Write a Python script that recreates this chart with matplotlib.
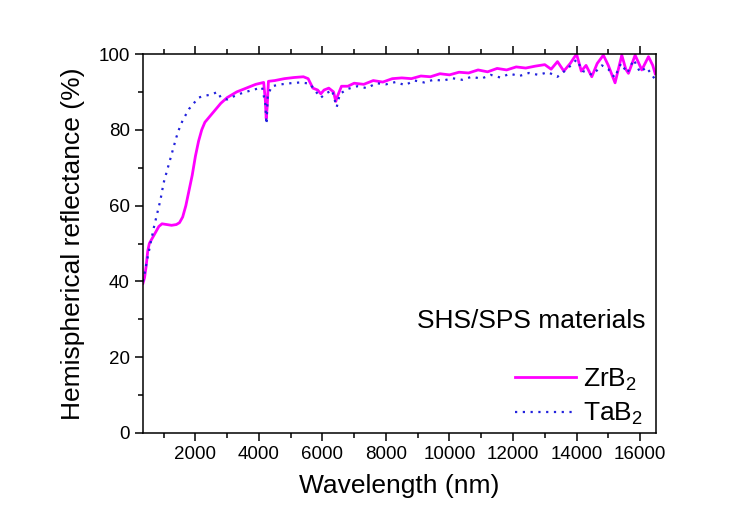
import matplotlib
matplotlib.use("Agg")
import matplotlib.pyplot as plt
from matplotlib.ticker import MultipleLocator
from matplotlib.lines import Line2D

plt.rcParams["font.family"] = ["Liberation Sans", "DejaVu Sans"]
plt.rcParams["mathtext.fontset"] = "custom"
plt.rcParams["mathtext.rm"] = "Liberation Sans"

# ── Data ─────────────────────────────────────────────────────────────────────
zrb2_wl = [350, 400, 450, 500, 550, 650, 750, 850, 950, 1100, 1250, 1400, 1500,
           1600, 1700, 1800, 1900, 2000, 2100, 2200, 2300, 2450, 2600, 2800,
           3000, 3300, 3600, 3900, 4150, 4200, 4230, 4260, 4300, 4500, 4800,
           5100, 5400, 5550, 5700, 5850, 5950, 6050, 6200, 6350, 6420, 6480,
           6600, 6800, 7000, 7300, 7600, 7900, 8200, 8500, 8800, 9100, 9400,
           9700, 10000, 10300, 10600, 10900, 11200, 11500, 11800, 12100, 12400,
           12700, 13000, 13200, 13400, 13600, 13800, 14000, 14150, 14300, 14480,
           14650, 14845, 15000, 15213, 15425, 15550, 15634, 15845, 16055, 16265,
           16400, 16476]
zrb2_r = [39.5, 41, 44, 48, 50, 51.5, 53, 54.5, 55.2, 55, 54.8, 55, 55.5,
          57, 60, 64, 68, 73, 77, 80, 82, 83.5, 85, 87,
          88.5, 90, 91, 92, 92.5, 88, 83, 86, 92.8, 93, 93.5,
          93.8, 94, 93.5, 91, 90.5, 89.5, 90.5, 91, 90, 87.5, 89,
          91.5, 91.5, 92.3, 92, 93, 92.6, 93.5, 93.7, 93.5, 94.2, 94,
          94.8, 94.5, 95.2, 95, 95.8, 95.3, 96.2, 95.8, 96.6, 96.3,
          96.8, 97.2, 96, 98, 95.5, 97.5, 100, 95.5, 97, 94,
          97.5, 99.7, 97, 92.4, 99.7, 96, 94.9, 99.7, 95.8, 99.3,
          97, 94.8]

tab2_wl = [350, 420, 500, 600, 700, 800, 900, 1000, 1100, 1200, 1300, 1400,
           1500, 1600, 1700, 1800, 1900, 2000, 2100, 2300, 2500, 2700, 2800,
           3000, 3200, 3500, 3800, 4100, 4200, 4240, 4280, 4400, 4700, 5000,
           5300, 5600, 5800, 5950, 6100, 6300, 6450, 6550, 6800, 7100, 7400,
           7700, 8000, 8300, 8600, 8900, 9200, 9500, 9800, 10100, 10400, 10700,
           11000, 11300, 11600, 11900, 12200, 12500, 12800, 13100, 13400, 13700,
           14000, 14200, 14500, 14800, 15000, 15200, 15400, 15600, 15800, 16000,
           16200, 16500]
tab2_r = [40, 43, 46.5, 50.5, 54.5, 58, 61.5, 66, 69, 72, 75, 78,
          80.5, 82.5, 84, 85.5, 86.5, 87.5, 88.5, 89, 89.3, 90, 88.5,
          88, 88.8, 89.8, 90.5, 91.2, 87, 81.5, 89, 91.5, 92, 92.3,
          92.5, 92.2, 90, 88.5, 89.5, 90.5, 86, 89.5, 90.8, 91.5, 91,
          92.3, 92, 92.6, 91.8, 93, 92.5, 93.2, 93, 93.6, 93.2, 94,
          93.5, 94.5, 93.8, 94.8, 94.2, 95, 94.5, 95.2, 94, 96,
          98.5, 95.5, 94.5, 97, 96, 93.8, 97.5, 95, 98.5, 95.2,
          96.5, 93]

MAGENTA = "#ff00ff"
BLUE = "#2222dd"
DOTS = (0, (1, 2.5))

# ── Plot ─────────────────────────────────────────────────────────────────────
fig = plt.figure(figsize=(7.47, 5.16), dpi=100)
ax = fig.add_axes([0.1914, 0.1609, 0.6867, 0.7344])

ax.plot(zrb2_wl, zrb2_r, color=MAGENTA, lw=2.0, solid_joinstyle="round")
ax.plot(tab2_wl, tab2_r, color=BLUE, lw=1.6, ls=DOTS)

ax.set_xlim(350, 16500)
ax.set_ylim(0, 100)
ax.xaxis.set_major_locator(MultipleLocator(2000))
ax.xaxis.set_minor_locator(MultipleLocator(1000))
ax.yaxis.set_major_locator(MultipleLocator(20))
ax.yaxis.set_minor_locator(MultipleLocator(10))

ax.tick_params(which="both", direction="out", top=True, right=False,
               width=1.1, labelsize=13.5)
ax.tick_params(which="major", length=6)
ax.tick_params(which="minor", length=3.5)
for s in ax.spines.values():
    s.set_linewidth(1.1)

ax.set_xlabel("Wavelength (nm)", fontsize=19, labelpad=8)
ax.set_ylabel("Hemispherical reflectance (%)", fontsize=19, labelpad=10)

ax.text(0.98, 0.295, "SHS/SPS materials", transform=ax.transAxes,
        ha="right", va="center", fontsize=19)

handles = [Line2D([], [], color=MAGENTA, lw=2.0),
           Line2D([], [], color=BLUE, lw=1.6, ls=DOTS)]
ax.legend(handles, ["ZrB$_2$", "TaB$_2$"], loc="lower right",
          bbox_to_anchor=(1.02, -0.048), frameon=False, fontsize=19,
          handlelength=2.3, handletextpad=0.25, labelspacing=0.3)

fig.savefig("out.png", dpi=100)
